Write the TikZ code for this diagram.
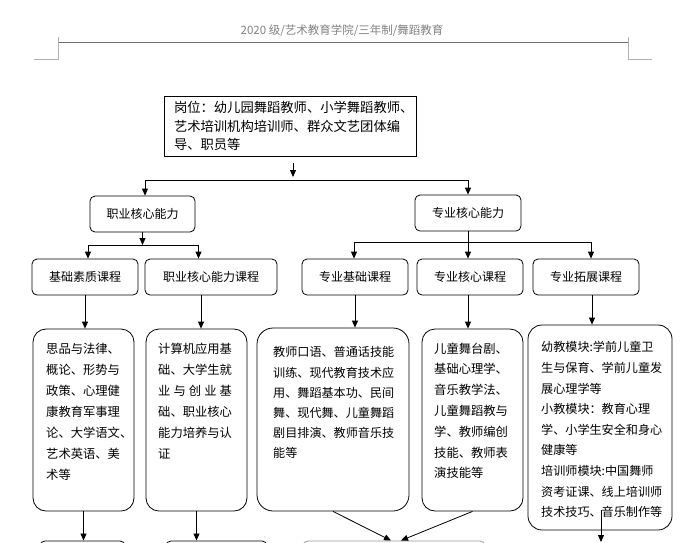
\documentclass[tikz,border=0pt]{standalone}
\usepackage{fontspec}
\newfontfamily\cjk{Noto Sans CJK SC}
\usetikzlibrary{arrows.meta}
\begin{document}
\begin{tikzpicture}[x=1pt,y=-1pt,
  every node/.style={font=\cjk},
  lbl/.style={draw, line width=0.8pt, rounded corners=5pt, inner sep=0, minimum height=36pt, font=\cjk\fontsize{12}{14}\selectfont},
  cb/.style={draw, line width=0.8pt, rounded corners=13pt, inner sep=0},
  ct/.style={anchor=north west, inner sep=0, align=left, font=\cjk\fontsize{12.3}{21}\selectfont},
  arr/.style={line width=0.8pt, -{Triangle[length=7pt,width=6pt]}},
  ln/.style={line width=0.8pt}]
\useasboundingbox (0,0) rectangle (698,542);
\clip (0,0) rectangle (698,542);
% header
\node[font=\cjk\fontsize{11.5}{13}\selectfont, text=black!50] (hdr) at (342,31) {2020 级/艺术教育学院/三年制/舞蹈教育};
\draw[black!55, line width=0.8pt] (58,42) -- (628,42);
\draw[black!30, line width=0.6pt] (58,37) -- (58,59) -- (34,59);
\draw[black!30, line width=0.6pt] (628,37) -- (628,59) -- (652,59);
% top box
\node[draw, line width=0.8pt, minimum width=252pt, minimum height=60pt, inner xsep=10pt, inner ysep=0pt, text width=232pt, align=left, font=\cjk\fontsize{13.3}{18.5}\selectfont] (top) at (290,126)
 {岗位：幼儿园舞蹈教师、小学舞蹈教师、\\艺术培训机构培训师、群众文艺团体编\\导、职员等};
\coordinate (s1) at (293,163);
\coordinate (s2) at (293,177);
\draw[arr] (s1) -- (s2);
\coordinate (jl) at (145,180);
\coordinate (jr) at (468,180);
\draw[ln] (jl) -- (jr);
% level 2
\node[lbl, minimum width=105pt] (zy) at (142.5,214) {职业核心能力};
\node[lbl, minimum width=106pt] (zz) at (468,213) {专业核心能力};
\draw[arr] (jl) -- (jl |- zy.north);
\draw[arr] (jr) -- (jr |- zz.north);
% level 3
\node[lbl, minimum width=106pt] (k1) at (85,277) {基础素质课程};
\node[lbl, minimum width=132pt] (k2) at (211,277) {职业核心能力课程};
\node[lbl, minimum width=106pt] (k3) at (355,277) {专业基础课程};
\node[lbl, minimum width=106pt] (k4) at (470,277) {专业核心课程};
\node[lbl, minimum width=106pt] (k5) at (586,277) {专业拓展课程};
\coordinate (j2m) at (142.5,245);
\coordinate (j2l) at (88,245);
\coordinate (j2r) at (198.5,245);
\draw[arr] (zy.south) -- (j2m);
\draw[ln] (j2l) -- (j2r);
\draw[arr] (j2l) -- (j2l |- k1.north);
\draw[arr] (j2r) -- (j2r |- k2.north);
\coordinate (j3m) at (468,242);
\coordinate (j3l) at (354,242);
\coordinate (j3r) at (591,242);
\draw[ln] (zz.south) -- (j3m);
\draw[ln] (j3l) -- (j3r);
\draw[arr] (j3l) -- (j3l |- k3.north);
\draw[arr] (j3m) -- (j3m |- k4.north);
\draw[arr] (j3r) -- (j3r |- k5.north);
% content boxes
\node[cb, minimum width=101pt, minimum height=182pt] (A) at (83.5,420) {};
\node[cb, minimum width=101pt, minimum height=182pt] (B) at (196.5,420) {};
\node[cb, rounded corners=16pt, minimum width=152pt, minimum height=183pt] (C) at (333,419.5) {};
\node[cb, minimum width=101pt, minimum height=182pt] (D) at (472.5,420) {};
\node[cb, rounded corners=14pt, minimum width=144pt, minimum height=205pt] (E) at (600,427.5) {};
\node[ct] (At) at (46,342.5) {思品与法律、\\概论、形势与\\政策、心理健\\康教育军事理\\论、大学语文、\\艺术英语、美\\术等};
\node[ct] (Bt) at (158,342.5) {计算机应用基\\础、大学生就\\\makebox[73.8pt][s]{业\hfil 与\hfil 创\hfil 业\hfil 基}\\础、职业核心\\能力培养与认\\证};
\node[ct, font=\cjk\fontsize{12.1}{20.2}\selectfont] (Ct) at (273,346.5) {教师口语、普通话技能\\训练、现代教育技术应\\用、舞蹈基本功、民间\\舞、现代舞、儿童舞蹈\\剧目排演、教师音乐技\\能等};
\node[ct, font=\cjk\fontsize{12.3}{20.8}\selectfont] (Dt) at (434,342.5) {儿童舞台剧、\\基础心理学、\\音乐教学法、\\儿童舞蹈教与\\学、教师编创\\技能、教师表\\演技能等};
\node[ct, font=\cjk\fontsize{12.1}{20.6}\selectfont] (Et) at (541,341.5) {幼教模块:学前儿童卫\\生与保育、学前儿童发\\展心理学等\\小教模块：教育心理\\学、小学生安全和身心\\健康等\\培训师模块:中国舞师\\资考证课、线上培训师\\技术技巧、音乐制作等};
\draw[arr] (k1.south) -- (k1.south |- A.north);
\coordinate (k2a) at (201,295);
\draw[arr] (k2a) -- (k2a |- B.north);
\draw[arr] (k3.south) -- (k3.south |- C.north);
\coordinate (k4a) at (468,295);
\draw[arr] (k4a) -- (k4a |- D.north);
\coordinate (k5a) at (592,295);
\draw[arr] (k5a) -- (k5a |- E.north);
% bottom boxes (cut off)
\node[lbl, minimum width=85pt, minimum height=40pt, anchor=north] (bb1) at (82.5,540.5) {};
\node[lbl, minimum width=101pt, minimum height=40pt, anchor=north] (bb2) at (216.5,540.5) {};
\node[lbl, draw=black!40, minimum width=182pt, minimum height=40pt, anchor=north] (bb3) at (394,540.5) {};
\draw[arr] (A.south) -- (A.south |- bb1.north);
\draw[arr] (B.south) -- (B.south |- bb2.north);
\coordinate (c3l) at (391,540.5);
\coordinate (c3r) at (401,540.5);
\draw[arr] (C.south) -- (c3l);
\draw[arr] (D.south) -- (c3r);
\coordinate (e1) at (601,510);
\coordinate (e2) at (601,542);
\draw[arr] (e1) -- (e2);
\end{tikzpicture}
\end{document}
